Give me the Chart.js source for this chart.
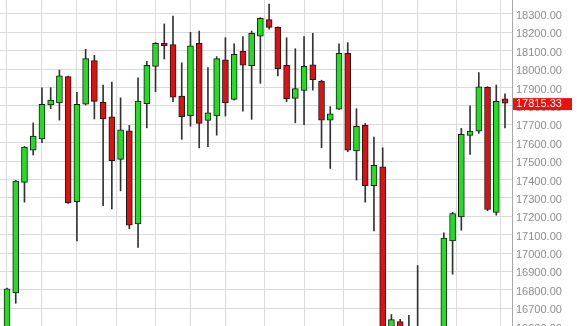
<!DOCTYPE html>
<html>
<head>
<meta charset="utf-8">
<script src="https://cdn.jsdelivr.net/npm/chart.js@4.4.0/dist/chart.umd.min.js"></script>
<style>
html, body { margin: 0; padding: 0; background: #fff; overflow: hidden; }
#wrap { width: 577px; height: 326px; overflow: hidden; position: relative; }
canvas { position: absolute; left: 0; top: -4px; }
</style>
</head>
<body>
<div id="wrap"><canvas id="mycanvas" width="577" height="344"></canvas></div>
<script>
// daily candles, oldest first
var opens  = [16540, 16783, 17384, 17560, 17621, 17806, 17817, 17959, 17279, 17809,
              18046, 17819, 17741, 17509, 17665, 17159, 17812, 18015, 18140, 18133,
              17854, 17746, 18140, 17721, 17746, 18050, 17836, 18097, 18019, 18180,
              18269, 18227, 18021, 17841, 17885, 18024, 17935, 17723, 17783, 18086,
              17556, 17694, 17366, 17469, 16450, 16628, 16500, 16520, 16560, 16410,
              16560, 17066, 17197, 17640, 17663, 17901, 17221, 17838];
var highs  = [16810, 17395, 17580, 17708, 17899, 17899, 17995, 17962, 17874, 18108,
              18075, 17914, 17930, 17844, 17694, 17953, 18043, 18145, 18246, 18289,
              18035, 18200, 18207, 18008, 18068, 18171, 18138, 18177, 18207, 18280,
              18354, 18230, 18171, 18111, 18177, 18195, 17940, 17796, 18138, 18144,
              17785, 17705, 17631, 17572, 16666, 16640, 16662, 16932, 16590, 16580,
              17110, 17222, 17678, 17801, 17981, 17905, 17914, 17866];
var lows   = [16500, 16727, 17277, 17533, 17600, 17785, 17723, 17270, 17066, 17805,
              17729, 17257, 17240, 17338, 17132, 17030, 17681, 17877, 18055, 17823,
              17618, 17690, 17572, 17578, 17641, 17745, 17832, 17772, 17727, 17923,
              18217, 17963, 17823, 17708, 17698, 17886, 17572, 17460, 17780, 17551,
              17397, 17277, 17121, 16380, 16380, 16420, 16400, 16450, 16350, 16330,
              16520, 16885, 17124, 17536, 17651, 17230, 17206, 17681];
var closes = [16805, 17391, 17576, 17636, 17809, 17832, 17963, 17273, 17809, 18057,
              17825, 17729, 17502, 17670, 17152, 17826, 18021, 18140, 18128, 17847,
              17741, 18127, 17705, 17763, 18057, 17817, 18081, 18021, 18195, 18276,
              18227, 18002, 17839, 17895, 18015, 17943, 17723, 17757, 18086, 17560,
              17689, 17366, 17477, 16420, 16638, 16480, 16560, 16580, 16400, 16550,
              17081, 17215, 17645, 17663, 17904, 17237, 17825, 17815.33];
// candles that carry a vertical grid line (week starts)
var gridDays = [2, 6, 10, 15, 19, 23, 27, 32, 36, 41, 45, 49, 54];
var lastPrice = closes[closes.length - 1];

var upColor = '#22dd22';
var downColor = '#dd1111';

var bodies = [];
var wicks = [];
var bodyColors = [];
for (var i in opens) {
    bodies.push({x: +i, y: [opens[i], closes[i]]});
    wicks.push({x: +i, y: [lows[i], highs[i]]});
    bodyColors.push(closes[i] >= opens[i] ? upColor : downColor);
}

var lastLabel = {
    id: 'lastLabel',
    afterDraw: function(chart) {
        var c = chart.ctx;
        var y = chart.scales.y.getPixelForValue(lastPrice);
        var left = chart.chartArea.right + 1;
        c.save();
        c.fillStyle = '#e8130f';
        c.fillRect(left, y - 5, 59, 12);
        c.fillStyle = '#ffffff';
        c.font = '11px "Liberation Sans", Arial, sans-serif';
        c.textBaseline = 'middle';
        c.fillText(lastPrice.toFixed(2), left + 3, y + 1);
        c.restore();
    }
};

var ctx = document.getElementById('mycanvas');
var chart = new Chart(ctx, {
    type: 'bar',
    data: {
        datasets: [
            {
                data: bodies,
                backgroundColor: bodyColors,
                borderColor: '#1a1a1a',
                borderWidth: 1,
                borderSkipped: false,
                barThickness: 6,
                grouped: false,
                order: 0
            },
            {
                data: wicks,
                backgroundColor: '#333333',
                borderWidth: 0,
                barThickness: 1,
                grouped: false,
                order: 1
            }
        ]
    },
    options: {
        responsive: false,
        animation: false,
        layout: { padding: 0 },
        plugins: { legend: { display: false }, tooltip: { enabled: false } },
        scales: {
            x: {
                type: 'linear',
                min: -0.801,
                max: 57.8,
                offset: false,
                afterBuildTicks: function(scale) {
                    scale.ticks = gridDays.map(function(v) { return {value: v}; });
                },
                ticks: { display: false },
                grid: { color: '#dadada', lineWidth: 1, drawTicks: false },
                border: { display: false }
            },
            y: {
                position: 'right',
                min: 16549,
                max: 18376,
                afterFit: function(scale) { scale.width = 65; },
                ticks: {
                    stepSize: 100,
                    includeBounds: false,
                    padding: 0,
                    color: '#8c8c8c',
                    font: { family: '"Liberation Sans", Arial, sans-serif', size: 11, lineHeight: '4px' },
                    // empty first line pushes the label a couple of pixels below its grid line
                    callback: function(v) { return ['', v.toFixed(2)]; }
                },
                grid: { color: '#dadada', lineWidth: 1, drawTicks: true, tickLength: 4, tickColor: 'rgba(0,0,0,0)' },
                border: { display: true, color: '#a8a8a8', width: 1 }
            }
        }
    },
    plugins: [lastLabel]
});
</script>
</body>
</html>
